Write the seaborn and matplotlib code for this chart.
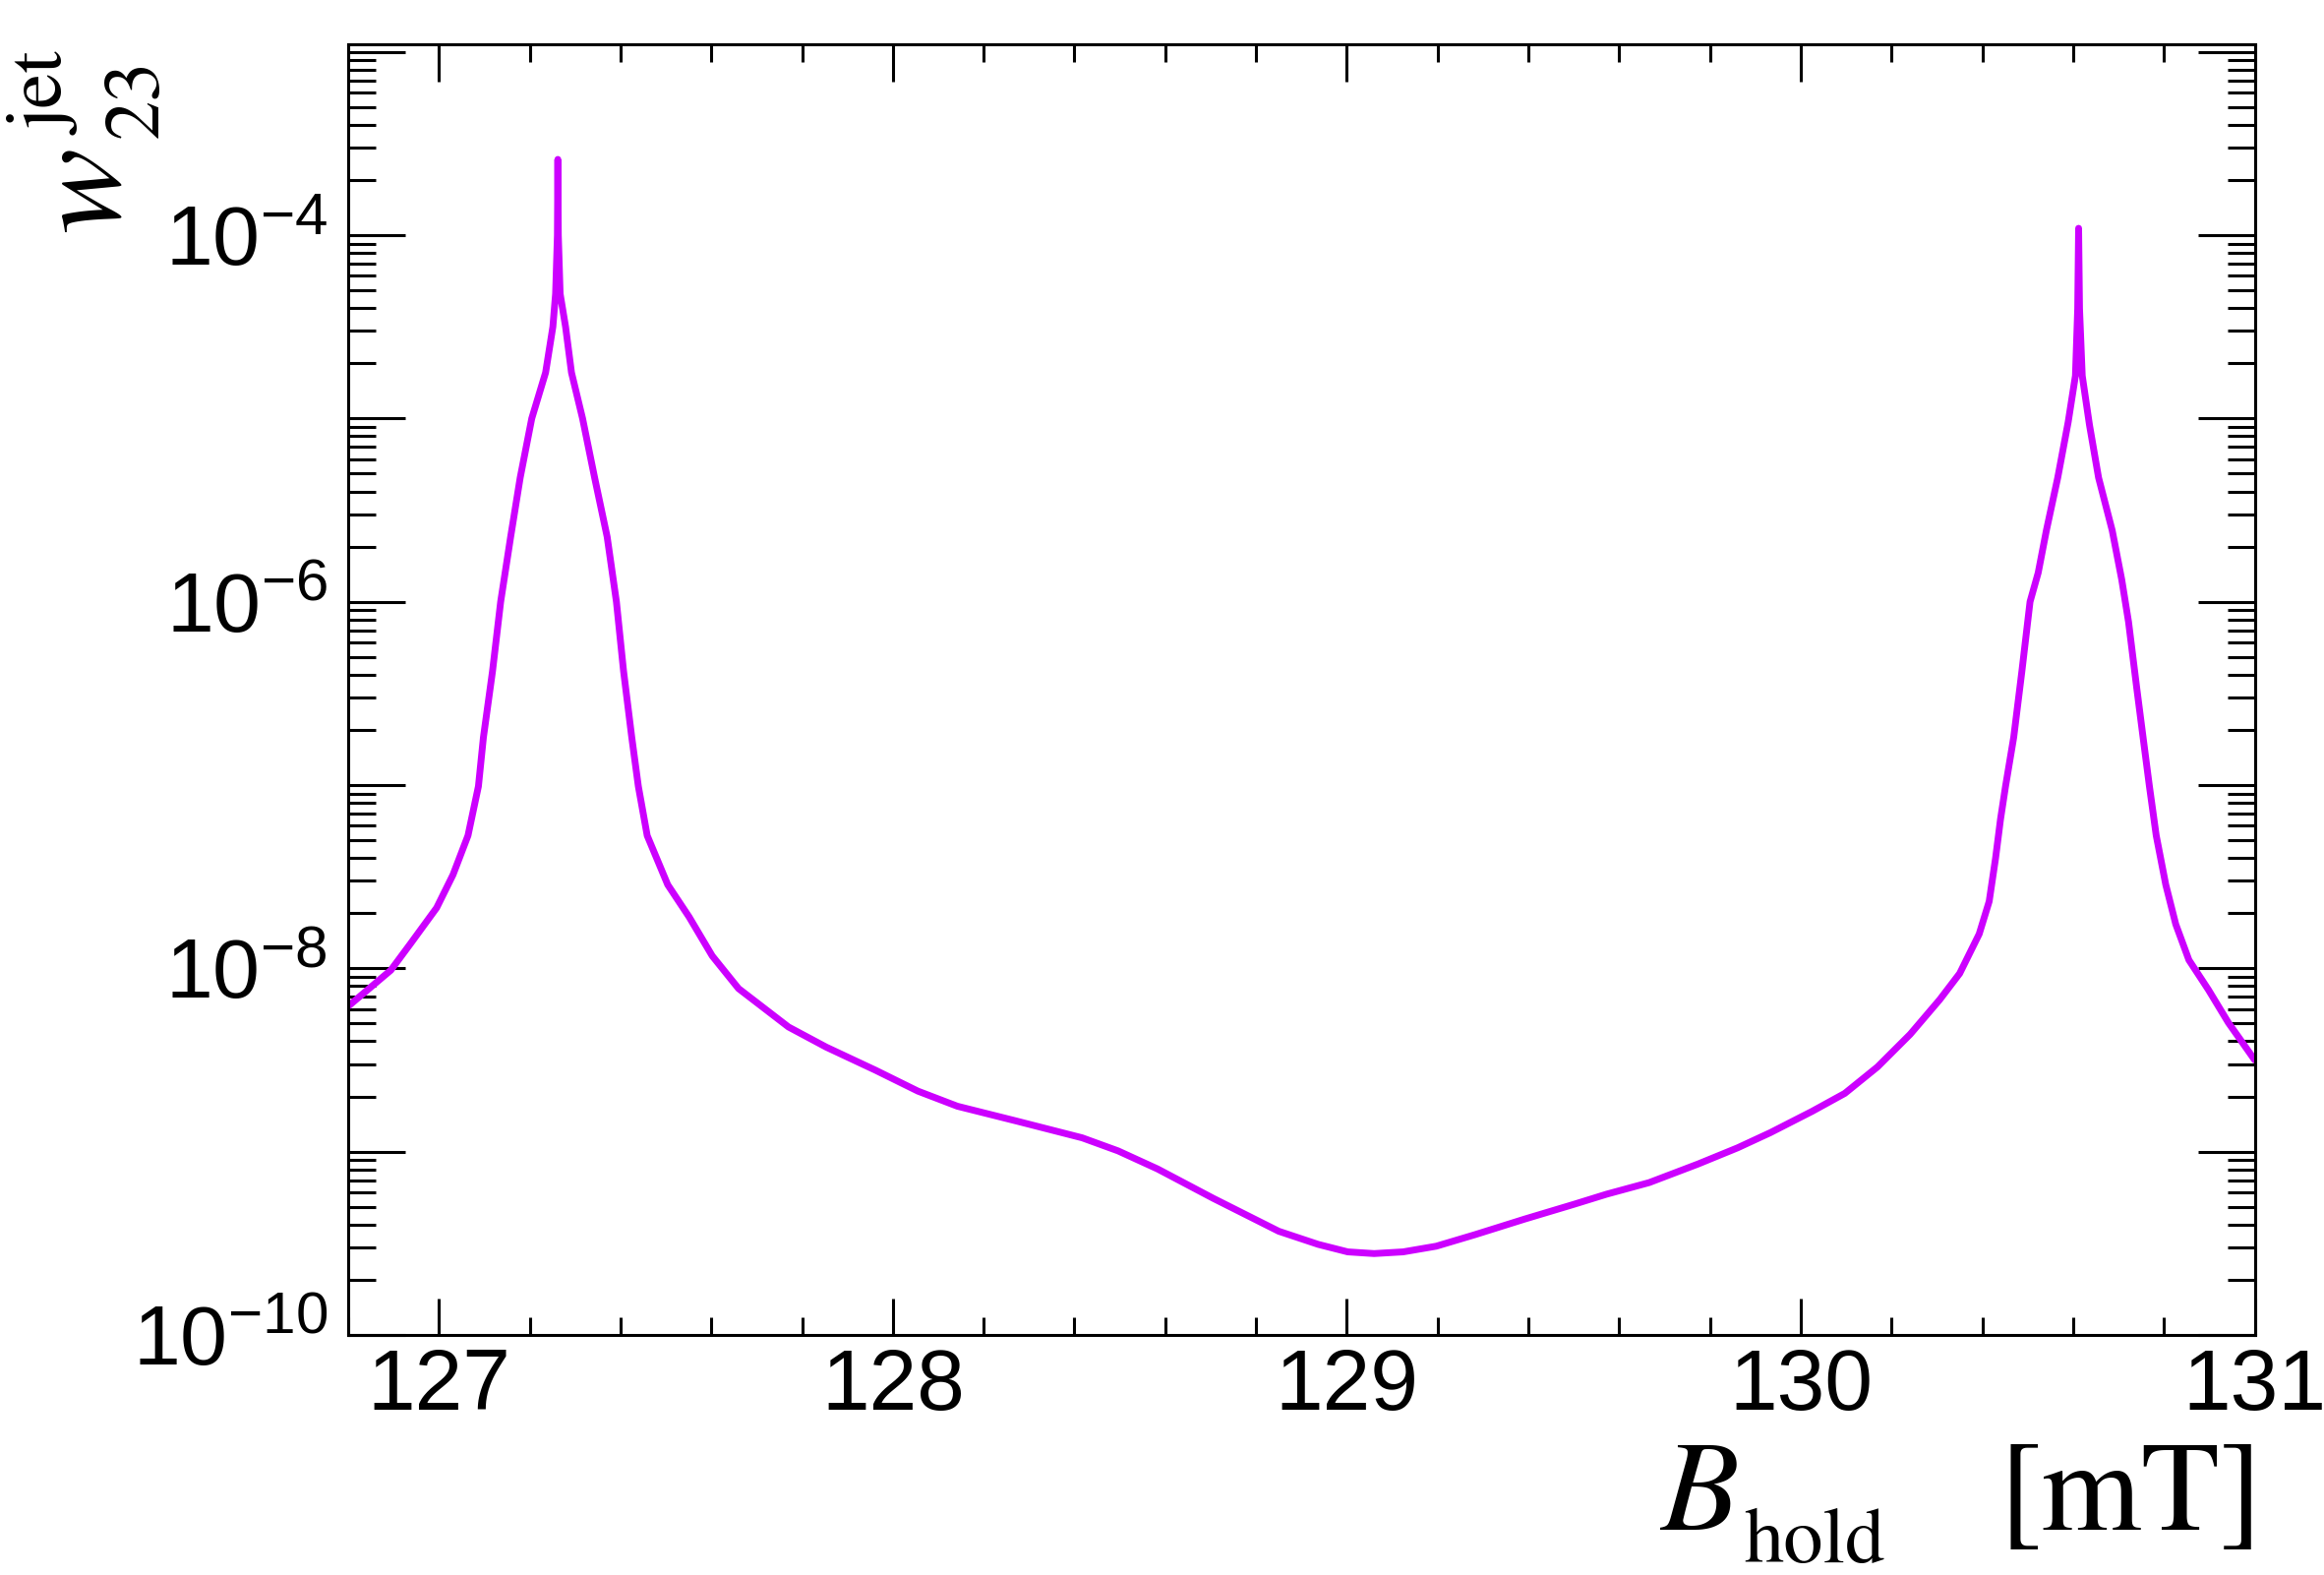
import numpy as np
import pandas as pd
import seaborn as sns
import matplotlib
matplotlib.use("Agg")
import matplotlib.pyplot as plt
from matplotlib.ticker import LogLocator, MultipleLocator, FuncFormatter, NullFormatter

# curve (B_hold in mT, w23 jet weight)
b_hold = [126.800, 126.894, 126.937, 126.995, 127.031, 127.064, 127.087, 127.098,
          127.118, 127.136, 127.158, 127.179, 127.2045, 127.235, 127.251, 127.257,
          127.261, 127.262, 127.263, 127.267, 127.279, 127.292, 127.3164, 127.343,
          127.3706, 127.391, 127.4068, 127.4248, 127.4393, 127.4588,
          127.504, 127.551, 127.602, 127.660, 127.770, 127.853, 127.962, 128.055,
          128.142, 128.272, 128.417, 128.496, 128.583, 128.706, 128.850, 128.937,
          129.002, 129.060, 129.124, 129.197, 129.283, 129.392, 129.500, 129.572,
          129.666, 129.774, 129.861, 129.933, 130.025, 130.097, 130.169, 130.241,
          130.306, 130.350, 130.393, 130.415, 130.429, 130.440, 130.451, 130.469,
          130.487, 130.505, 130.523, 130.541, 130.566, 130.589, 130.605, 130.610,
          130.612, 130.614, 130.620, 130.636, 130.656, 130.686, 130.707, 130.722,
          130.740, 130.754, 130.768, 130.783, 130.804, 130.826, 130.855, 130.898,
          130.942, 131.000]
w23 = [6.21e-9, 9.77e-9, 1.36e-8, 2.14e-8, 3.24e-8, 5.30e-8, 9.84e-8, 1.82e-7,
       4.17e-7, 1.00e-6, 2.26e-6, 4.75e-6, 1.00e-5, 1.78e-5, 3.16e-5, 4.79e-5,
       1.00e-4, 2.59e-4, 1.00e-4, 4.79e-5, 3.16e-5, 1.78e-5, 1.00e-5, 4.75e-6,
       2.26e-6, 1.00e-6, 4.17e-7, 1.82e-7, 9.84e-8, 5.30e-8,
       2.86e-8, 1.91e-8, 1.17e-8, 7.76e-9, 4.79e-9, 3.72e-9, 2.78e-9, 2.14e-9,
       1.77e-9, 1.47e-9, 1.19e-9, 1.01e-9, 8.05e-10, 5.56e-10, 3.68e-10, 3.12e-10,
       2.84e-10, 2.78e-10, 2.84e-10, 3.05e-10, 3.53e-10, 4.29e-10, 5.16e-10, 5.86e-10,
       6.78e-10, 8.57e-10, 1.05e-9, 1.27e-9, 1.66e-9, 2.08e-9, 2.90e-9, 4.37e-9,
       6.75e-9, 9.38e-9, 1.54e-8, 2.32e-8, 3.98e-8, 6.52e-8, 9.84e-8, 1.82e-7,
       4.17e-7, 1.00e-6, 1.44e-6, 2.45e-6, 4.75e-6, 9.55e-6, 1.71e-5, 3.98e-5,
       1.09e-4, 3.98e-5, 1.71e-5, 9.20e-6, 4.75e-6, 2.45e-6, 1.32e-6, 7.76e-7,
       3.39e-7, 1.82e-7, 9.84e-8, 5.30e-8, 2.86e-8, 1.74e-8, 1.11e-8, 7.64e-9,
       5.05e-9, 3.16e-9]
x_ticks = [127, 128, 129, 130, 131]

sns.set_style("white")
plt.rcParams["font.family"] = ["Liberation Sans", "DejaVu Sans"]
plt.rcParams["mathtext.fontset"] = "stix"
serif = ["STIXGeneral", "Liberation Serif", "DejaVu Serif"]

fig = plt.figure(figsize=(23.63, 16.01), dpi=100)
ax = fig.add_axes([0.1498, 0.1524, 0.8204, 0.8195])

df = pd.DataFrame({"B": b_hold, "w": w23})
sns.lineplot(data=df, x="B", y="w", ax=ax, color="#cc00ff", lw=5,
             estimator=None, sort=False)

ax.set_yscale("log")
ax.set_xlim(126.8, 131.0)
ax.set_ylim(1e-10, 1.1e-3)

ax.set_xticks(x_ticks)
ax.xaxis.set_minor_locator(MultipleLocator(0.2))
ax.yaxis.set_major_locator(LogLocator(base=10, subs=(1.0,), numticks=30))
ax.yaxis.set_minor_locator(LogLocator(base=10, subs=np.arange(2, 10), numticks=100))
ax.yaxis.set_minor_formatter(NullFormatter())


def fmt(v, pos):
    e = int(round(np.log10(v)))
    if e % 2 == 0:
        return r"$\mathregular{10^{%d}}$" % e
    return ""


ax.yaxis.set_major_formatter(FuncFormatter(fmt))

ax.tick_params(axis="both", which="both", direction="in", top=True, right=True,
               bottom=True, left=True, width=2.2, color="black", labelcolor="black")
ax.tick_params(axis="x", which="major", length=27, pad=9, labelsize=63)
ax.tick_params(axis="x", which="minor", length=13)
ax.tick_params(axis="y", which="major", length=42, pad=15, labelsize=62)
ax.tick_params(axis="y", which="minor", length=20)
for s in ax.spines.values():
    s.set_linewidth(2.2)
    s.set_color("black")
ax.set_xlabel("")
ax.set_ylabel("")

# x title: B_hold [mT]
fig.text(0.7143, 0.0287, "B", ha="left", va="baseline", fontsize=94,
         family=serif, style="italic", color="black")
fig.text(0.7503, 0.0081, "hold", ha="left", va="baseline", fontsize=58,
         family=serif, color="black")
fig.text(0.9738, 0.0287, "[mT]", ha="right", va="baseline", fontsize=94,
         family=serif, color="black")

# y title: w^jet_23 (rotated)
fig.text(0.0508, 0.8526, "w", rotation=90, rotation_mode="anchor", ha="left",
         va="baseline", fontsize=94, family=serif, style="italic", color="black")
fig.text(0.0284, 0.9144, "jet", rotation=90, rotation_mode="anchor", ha="left",
         va="baseline", fontsize=58, family=serif, color="black")
fig.text(0.0677, 0.9126, "23", rotation=90, rotation_mode="anchor", ha="left",
         va="baseline", fontsize=58, family=serif, color="black")

fig.savefig("out.png", dpi=100)
